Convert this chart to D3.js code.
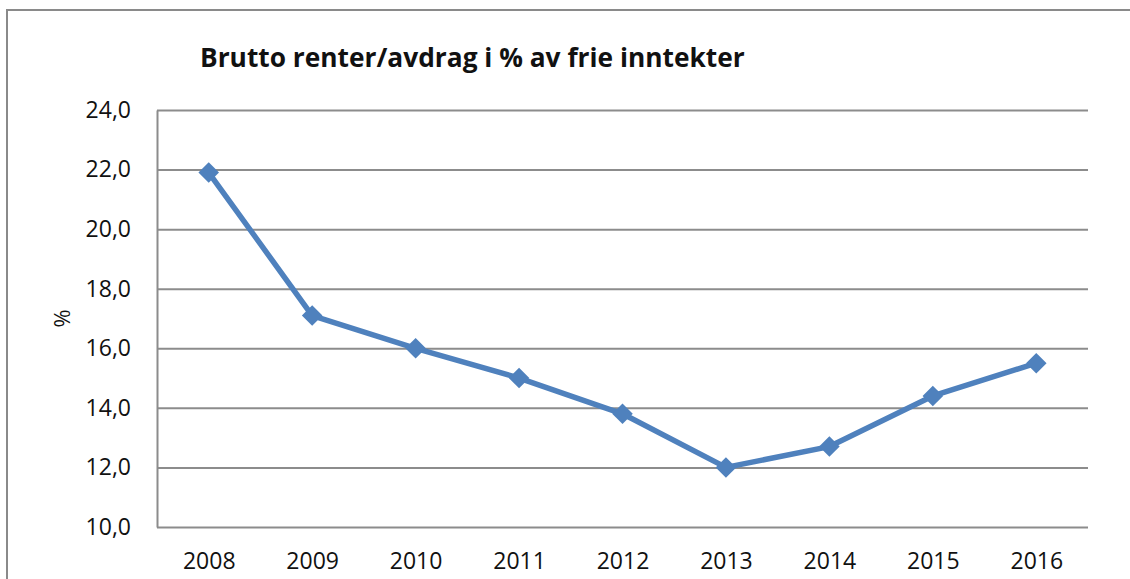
<!DOCTYPE html>
<html>
<head>
<meta charset="utf-8">
<script src="https://cdn.jsdelivr.net/npm/d3@7"></script>
<style>
  html, body { margin: 0; background: #fff; overflow: hidden; }
  svg { display: block; }
  .tick text { font-family: "Open Sans", sans-serif; font-size: 23px; fill: #111; }
</style>
</head>
<body>
<script>
// chart data
var years = ["2008", "2009", "2010", "2011", "2012", "2013", "2014", "2015", "2016"];
var values = [21.9, 17.1, 16.0, 15.0, 13.8, 12.0, 12.7, 14.4, 15.5];
var yTicks = [10, 12, 14, 16, 18, 20, 22, 24];
var title = "Brutto renter/avdrag i % av frie inntekter";

var W = 1130, H = 579;
var plot = {left: 157, right: 1088, top: 110, bottom: 527};

var svg = d3.select("body").append("svg")
    .attr("width", W)
    .attr("height", H);

// outer chart frame (runs off the right and bottom edges)
svg.append("path")
    .attr("d", "M7," + H + "V10H" + W)
    .attr("fill", "none")
    .attr("stroke", "#8a8a8a")
    .attr("stroke-width", 2);

var x = d3.scalePoint()
    .domain(years)
    .range([plot.left, plot.right])
    .padding(0.5);

var y = d3.scaleLinear()
    .domain([10, 24])
    .range([plot.bottom, plot.top]);

var fmt = function(d) { return d.toFixed(1).replace(".", ","); };

// gridlines
var grid = svg.append("g")
    .attr("transform", "translate(" + plot.left + ",0)")
    .call(d3.axisLeft(y).tickValues(yTicks).tickSize(-(plot.right - plot.left)).tickFormat(""));
grid.select(".domain").remove();
grid.selectAll(".tick line").attr("stroke", "#8c8c8c").attr("stroke-width", 2);

// y axis labels
var yAxis = svg.append("g")
    .attr("transform", "translate(" + plot.left + ",0)")
    .call(d3.axisLeft(y).tickValues(yTicks).tickSize(0).tickPadding(26).tickFormat(fmt));
yAxis.select(".domain").attr("stroke", "#8c8c8c").attr("stroke-width", 2);

// x axis labels
var xAxis = svg.append("g")
    .attr("transform", "translate(0," + plot.bottom + ")")
    .call(d3.axisBottom(x).tickSize(0).tickPadding(26));
xAxis.select(".domain").remove();
xAxis.selectAll(".tick text").attr("dy", "0.71em");

// y axis title
svg.append("text")
    .attr("transform", "translate(70," + ((plot.top + plot.bottom) / 2) + ") rotate(-90)")
    .attr("text-anchor", "middle")
    .attr("font-family", "Open Sans, sans-serif")
    .attr("font-size", 22)
    .attr("fill", "#111")
    .text("%");

// chart title
svg.append("text")
    .attr("x", 200).attr("y", 67)
    .attr("font-family", "Open Sans, sans-serif")
    .attr("font-weight", "bold")
    .attr("font-size", 26.3)
    .attr("fill", "#111")
    .text(title);

var data = years.map(function(d, i) { return {year: d, value: values[i]}; });

var line = d3.line()
    .x(function(d) { return x(d.year); })
    .y(function(d) { return y(d.value); });

svg.append("path")
    .datum(data)
    .attr("fill", "none")
    .attr("stroke", "#4f81bd")
    .attr("stroke-width", 5.5)
    .attr("stroke-linejoin", "round")
    .attr("d", line);

svg.append("g").selectAll("path")
    .data(data)
    .enter()
    .append("path")
    .attr("transform", function(d) { return "translate(" + x(d.year) + "," + y(d.value) + ")"; })
    .attr("d", d3.symbol().type(d3.symbolDiamond2).size(270))
    .attr("fill", "#4f81bd");
</script>
</body>
</html>
